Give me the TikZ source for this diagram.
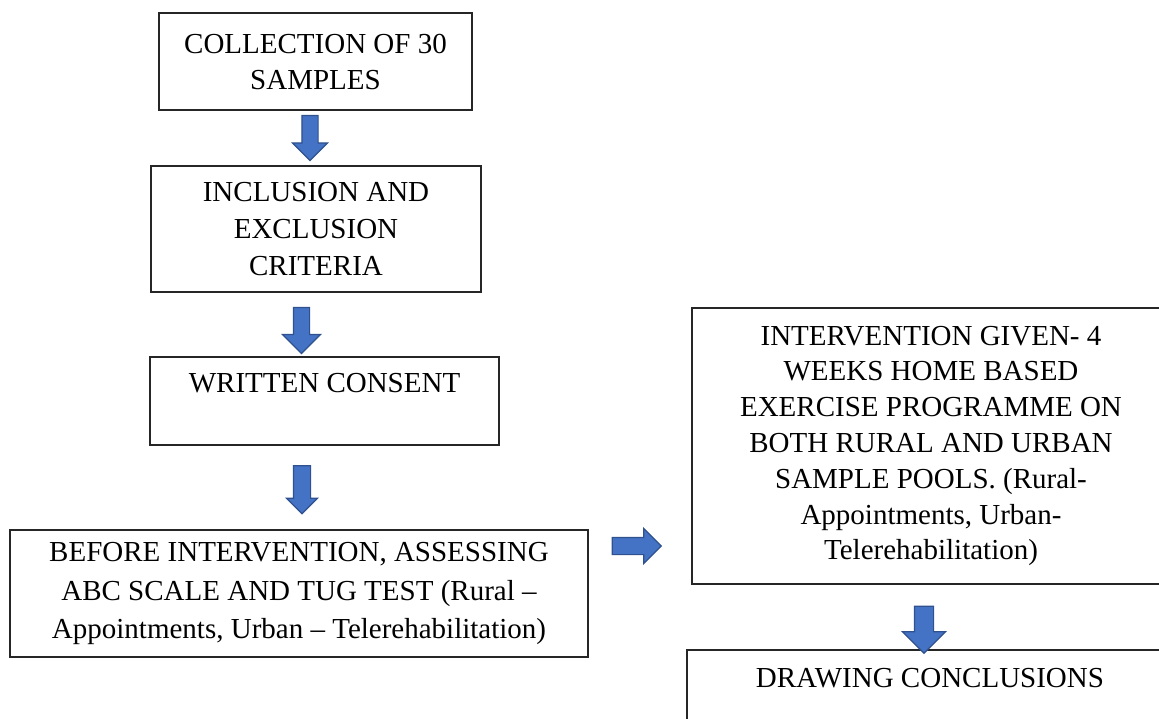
\documentclass[tikz,border=0pt]{standalone}
\usepackage{fontspec}
\setmainfont{Liberation Serif}
\usetikzlibrary{shapes.arrows}
\definecolor{arrowblue}{HTML}{4472C4}
\definecolor{arrowline}{HTML}{2F528F}

\begin{document}
\begin{tikzpicture}[x=0.5pt, y=-0.5pt,
  box/.style = {shape=rectangle, draw=black!85, line width=0.75pt,
    align=center, inner sep=0pt,
    font=\fontsize{14.5pt}{18pt}\selectfont},
  blockarrow/.style = {single arrow, draw=arrowline, fill=arrowblue,
    line width=0.6pt, inner xsep=0pt, outer sep=0pt},
  down/.style = {blockarrow, rotate=-90}]
  \clip (0,0) rectangle (1159,718);
  \node[box, minimum width=156.5pt, minimum height=48.5pt] (collect) at (315.5,61.5)
    {COLLECTION OF 30\\SAMPLES};
  \node[box, minimum width=165pt, minimum height=63pt,
    font=\fontsize{14.5pt}{18.5pt}\selectfont] (criteria) at (316,229)
    {INCLUSION AND\\EXCLUSION\\CRITERIA};
  \node[box, minimum width=174.5pt, minimum height=44pt] (consent) at (324.5,401)
    {WRITTEN CONSENT\\\mbox{}};
  \node[box, minimum width=289pt, minimum height=63.5pt,
    font=\fontsize{14.5pt}{19.2pt}\selectfont] (before) at (299,593.5)
    {BEFORE INTERVENTION, ASSESSING\\ABC SCALE AND TUG TEST (Rural --\\Appointments, Urban -- Telerehabilitation)};
  \node[box, minimum width=239pt, minimum height=138pt,
    font=\fontsize{14.5pt}{17.9pt}\selectfont] (interv) at (931,446)
    {INTERVENTION GIVEN- 4\\WEEKS HOME BASED\\EXERCISE PROGRAMME ON\\BOTH RURAL AND URBAN\\SAMPLE POOLS. (Rural-\\Appointments, Urban-\\Telerehabilitation)};
  \node[box, minimum width=243pt, minimum height=64pt] (conclude) at (930,714)
    {DRAWING CONCLUSIONS\\\mbox{}\\\mbox{}};
  \node[down, minimum height=22.5pt, minimum width=17pt, inner ysep=3.75pt,
    single arrow head extend=4.75pt] (arrowA) at (310,134) {};
  \node[down, minimum height=23pt, minimum width=18.5pt, inner ysep=3.75pt,
    single arrow head extend=5.5pt] (arrowB) at (301.5,326.5) {};
  \node[down, minimum height=24pt, minimum width=15pt, inner ysep=4pt,
    single arrow head extend=3.5pt] (arrowC) at (302,485.5) {};
  \node[blockarrow, minimum height=24.5pt, minimum width=17pt, inner ysep=4pt,
    single arrow head extend=4.5pt] (arrowD) at (632.5,546) {};
  \node[down, minimum height=23.5pt, minimum width=21pt, inner ysep=4.5pt,
    single arrow head extend=6pt] (arrowE) at (924,625) {};
\end{tikzpicture}
\end{document}
